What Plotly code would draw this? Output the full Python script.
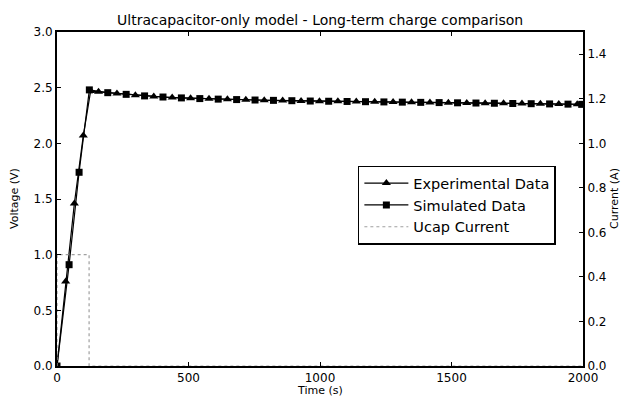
import plotly.graph_objects as go

# ---- data ----
exp_time = [0, 33, 66, 100, 128, 158, 228, 298, 368, 438, 508, 578, 648, 718, 788, 858,
            928, 998, 1068, 1138, 1208, 1278, 1348, 1418, 1488, 1558, 1628, 1698, 1768,
            1838, 1908, 1978]
exp_voltage = [0.0, 0.76, 1.46, 2.07, 2.47, 2.463, 2.447, 2.432, 2.421, 2.411, 2.405, 2.400,
               2.395, 2.391, 2.387, 2.384, 2.381, 2.379, 2.377, 2.375, 2.373, 2.371, 2.369,
               2.367, 2.365, 2.363, 2.361, 2.359, 2.357, 2.355, 2.353, 2.351]

sim_time = [0, 46, 84, 123, 193, 263, 333, 403, 473, 543, 613, 683, 753, 823, 893, 963,
            1033, 1103, 1173, 1243, 1313, 1383, 1453, 1523, 1593, 1663, 1733, 1803, 1873,
            1943, 1995]
sim_voltage = [0.0, 0.91, 1.74, 2.48, 2.455, 2.44, 2.426, 2.416, 2.408, 2.402, 2.397, 2.393,
               2.389, 2.386, 2.383, 2.380, 2.378, 2.376, 2.374, 2.372, 2.370, 2.368, 2.366,
               2.364, 2.362, 2.360, 2.358, 2.356, 2.354, 2.352, 2.350]

cur_time = [0, 0, 122, 122, 2000]
cur_amp = [0.0, 0.5, 0.5, 0.0, 0.0]

left_ticks = [0.0, 0.5, 1.0, 1.5, 2.0, 2.5, 3.0]
right_ticks = [0.0, 0.2, 0.4, 0.6, 0.8, 1.0, 1.2, 1.4]
x_ticks = [0, 500, 1000, 1500, 2000]

FONT = "DejaVu Sans"

fig = go.Figure()
fig.add_trace(go.Scatter(x=exp_time, y=exp_voltage, mode="lines+markers",
                         name="Experimental Data",
                         line=dict(color="black", width=1.2),
                         marker=dict(symbol="triangle-up", size=8, color="black")))
fig.add_trace(go.Scatter(x=sim_time, y=sim_voltage, mode="lines+markers",
                         name="Simulated Data",
                         line=dict(color="black", width=1.2),
                         marker=dict(symbol="square", size=7, color="black")))
fig.add_trace(go.Scatter(x=cur_time, y=cur_amp, mode="lines", name="Ucap Current",
                         yaxis="y2", line=dict(color="#a0a0a0", width=1.2, dash="dot")))

axis_common = dict(showgrid=False, zeroline=False, showline=True, linecolor="black",
                   linewidth=2, ticks="inside", ticklen=4, tickcolor="black",
                   automargin=False,
                   tickfont=dict(family=FONT, size=12, color="black"))

fig.update_layout(
    width=621, height=397,
    margin=dict(l=57, r=38, t=32, b=31),
    paper_bgcolor="white", plot_bgcolor="white",
    font=dict(family=FONT, color="black"),
    showlegend=True,
    legend=dict(x=0.572, y=0.6, xanchor="left", yanchor="top",
                bordercolor="black", borderwidth=1.5, bgcolor="white",
                font=dict(family=FONT, size=14.5, color="black"),
                tracegroupgap=0, itemwidth=44),
    xaxis=dict(range=[0, 2000], tickvals=x_ticks, mirror="ticks", **axis_common),
    yaxis=dict(range=[0, 3.0], tickvals=left_ticks, tickformat=".1f", **axis_common),
    yaxis2=dict(range=[0, 1.5], tickvals=right_ticks, tickformat=".1f", overlaying="y",
                side="right", **axis_common),
    annotations=[
        dict(text="Ultracapacitor-only model - Long-term charge comparison", xref="paper",
             yref="paper", x=0.5, y=1.0, yshift=2, xanchor="center", yanchor="bottom",
             showarrow=False, font=dict(family=FONT, size=14, color="black")),
        dict(text="Time (s)", xref="paper", yref="paper", x=0.5, y=0, yshift=-16,
             xanchor="center", yanchor="top", showarrow=False,
             font=dict(family=FONT, size=11, color="black")),
        dict(text="Voltage (V)", xref="paper", yref="paper", x=0, xshift=-43, y=0.5,
             textangle=-90, xanchor="center", yanchor="middle", showarrow=False,
             font=dict(family=FONT, size=11, color="black")),
        dict(text="Current (A)", xref="paper", yref="paper", x=1, xshift=31, y=0.5,
             textangle=-90, xanchor="center", yanchor="middle", showarrow=False,
             font=dict(family=FONT, size=11, color="black")),
    ],
)

fig.write_html("out.html")
